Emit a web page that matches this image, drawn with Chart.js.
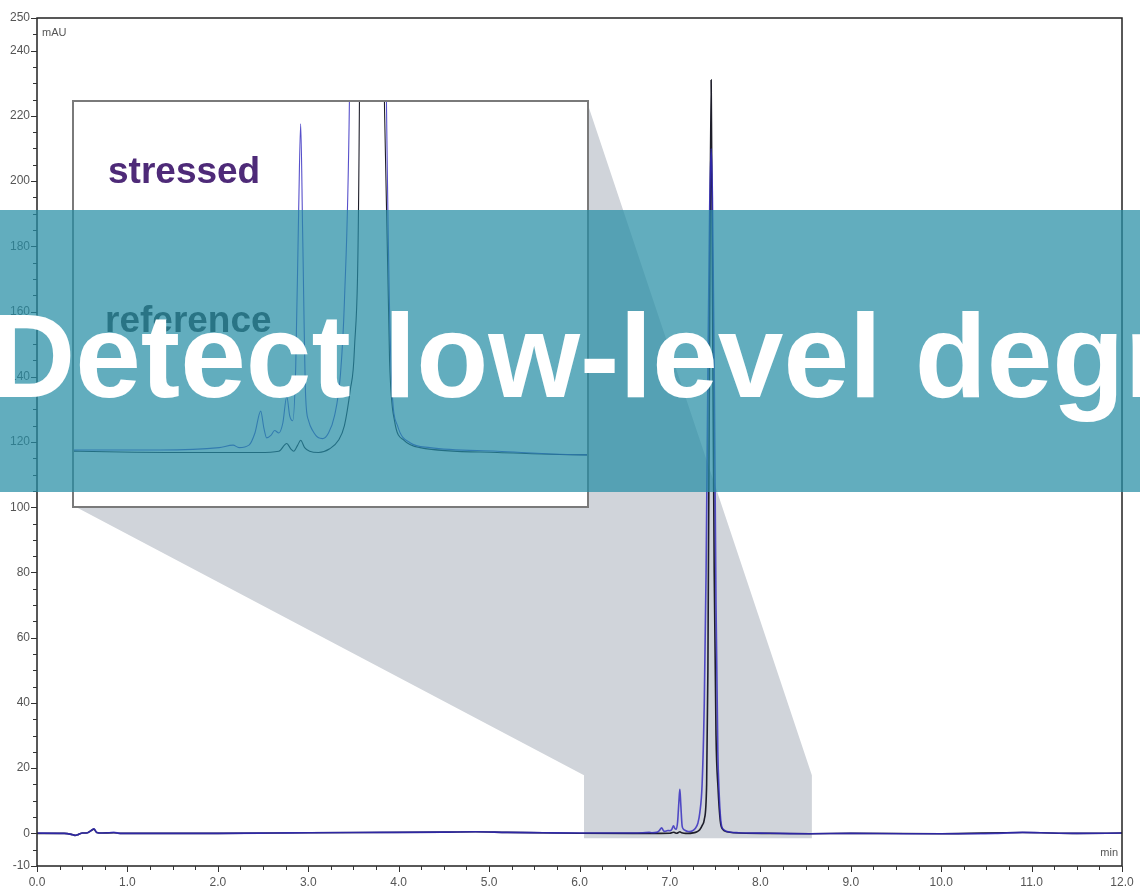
<!DOCTYPE html>
<html>
<head>
<meta charset="utf-8">
<script src="https://cdn.jsdelivr.net/npm/chart.js@4.4.1/dist/chart.umd.min.js"></script>
<style>
  html, body { margin: 0; padding: 0; background: #fff; }
  #wrap { position: relative; width: 1140px; height: 890px; overflow: hidden; }
  #mainChart { position: absolute; left: 0; top: 0; }
  #insetBox { position: absolute; left: 72px; top: 100px; width: 517px; height: 408px;
              border: 2px solid #7a7a7a; box-sizing: border-box; background: #fff; }
  #insetChart { position: absolute; left: 0; top: 0; }
  .tag { position: absolute; font-family: "Liberation Sans", Arial, sans-serif; font-weight: bold;
         font-size: 37px; line-height: 1; white-space: nowrap; }
  #banner { position: absolute; left: 0; top: 210px; width: 1140px; height: 282px;
            background: rgba(37, 142, 165, 0.72); overflow: hidden; }
  #banner span { position: absolute; left: -10px; top: 87px; color: #fff; white-space: nowrap;
                 font-family: "Liberation Sans", Arial, sans-serif; font-weight: bold;
                 font-size: 118px; line-height: 1; }
</style>
</head>
<body>
<div id="wrap">
  <canvas id="mainChart" width="1140" height="890"></canvas>
  <div id="insetBox"><canvas id="insetChart" width="513" height="404"></canvas></div>
  <div class="tag" style="left:108px; top:152px; color:#4e2a78;">stressed</div>
  <div class="tag" style="left:105px; top:301px; color:#333;">reference</div>
  <div id="banner"><span>Detect low-level degradants</span></div>
</div>
<script>
// chromatogram traces, time in min, absorbance in mAU
const stressedTime = [0.00, 0.30, 0.38, 0.42, 0.46, 0.50, 0.56, 0.60, 0.63, 0.66, 0.72, 0.80, 0.85, 0.92,
  1.50, 2.00, 2.60, 3.00, 3.80, 4.50, 4.85, 5.20, 5.60, 6.00, 6.40, 6.70, 6.77, 6.80, 6.85, 6.88,
  6.909, 6.925, 6.939, 6.96, 6.979, 7.00, 7.02, 7.04, 7.055, 7.07, 7.085, 7.10, 7.11, 7.12, 7.135,
  7.15, 7.17, 7.20, 7.22, 7.25, 7.28, 7.31, 7.33, 7.356, 7.38, 7.40, 7.42, 7.44, 7.456, 7.47, 7.49,
  7.51, 7.53, 7.542, 7.567, 7.597, 7.66, 7.76, 8.10, 8.55, 9.00, 9.60, 10.0, 10.6, 10.9, 11.1, 11.5, 12.0];
const stressedMAU = [0.1, 0.0, -0.3, -0.6, -0.3, 0.1, 0.2, 0.9, 1.4, 0.3, 0.1, 0.2, 0.3, 0.0,
  0.0, 0.0, 0.1, 0.2, 0.3, 0.4, 0.5, 0.3, 0.2, 0.1, 0.1, 0.2, 0.3, 0.2, 0.3, 0.8,
  1.7, 1.0, 0.6, 0.7, 0.9, 0.8, 1.2, 2.3, 1.5, 1.3, 3.5, 10, 13.5, 9, 2.3,
  1.3, 0.9, 0.6, 0.57, 0.8, 1.5, 3.2, 6.2, 15, 40, 80, 140, 192, 210, 195, 140,
  70, 25, 14, 3, 1.1, 0.4, 0.2, 0.05, -0.1, 0.0, -0.1, -0.1, 0.0, 0.3, 0.2, 0.0, 0.1];

const referenceTime = [0.00, 0.30, 0.38, 0.42, 0.46, 0.50, 0.56, 0.60, 0.63, 0.66, 0.72, 0.85, 0.92,
  2.00, 3.00, 4.50, 4.85, 5.20, 6.00, 6.60, 6.90, 7.00, 7.04, 7.06, 7.075, 7.095, 7.11, 7.13, 7.155,
  7.20, 7.256, 7.30, 7.33, 7.36, 7.38, 7.406, 7.42, 7.44, 7.456, 7.47, 7.49, 7.51, 7.532, 7.557,
  7.582, 7.63, 7.71, 8.10, 8.55, 9.00, 10.0, 10.9, 11.5, 12.0];
const referenceMAU = [0.0, 0.0, -0.3, -0.6, -0.3, 0.1, 0.2, 0.9, 1.3, 0.3, 0.1, 0.2, 0.0,
  0.0, 0.2, 0.4, 0.5, 0.3, 0.05, 0.0, 0.0, 0.05, 0.37, 0.15, 0.05, 0.3, 0.5, 0.2, 0.05,
  0.0, 0.15, 0.5, 1.1, 2.6, 4.2, 15, 50, 160, 231, 170, 80, 30, 14, 3.8,
  1.3, 0.5, 0.2, 0.0, -0.1, 0.0, -0.1, 0.25, 0.0, 0.1];

const xTickValues = [0, 1, 2, 3, 4, 5, 6, 7, 8, 9, 10, 11, 12];
const yTickValues = [-10, 0, 20, 40, 60, 80, 100, 120, 140, 160, 180, 200, 220, 240, 250];

// zoomed window shown in the inset (min / mAU)
const zoomTime = [6.05, 8.57];
const zoomMAU = [-1.5, 17.8];
const insetTime = [5.97, 8.55];
const insetMAU = [-2.2, 14.4];

const pts = (t, v) => t.map((x, i) => ({ x: x, y: v[i] }));
const axisFont = { family: "'Liberation Sans', Arial, sans-serif", size: 12 };
const inset = { left: 74, top: 102, right: 587, bottom: 506 };
const blue = 'rgba(50, 42, 190, 0.82)';
const black = '#1e1e2a';

const decorPlugin = {
  id: 'decor',
  beforeDatasetsDraw(chart) {
    const ctx = chart.ctx, x = chart.scales.x, y = chart.scales.y;
    const x0 = x.getPixelForValue(zoomTime[0]), x1 = x.getPixelForValue(zoomTime[1]);
    const y0 = y.getPixelForValue(zoomMAU[0]), y1 = y.getPixelForValue(zoomMAU[1]);
    ctx.save();
    ctx.fillStyle = 'rgb(208, 212, 218)';
    ctx.beginPath();
    ctx.moveTo(inset.left, inset.top);
    ctx.lineTo(inset.right, inset.top);
    ctx.lineTo(x1, y1);
    ctx.lineTo(x1, y0);
    ctx.lineTo(x0, y0);
    ctx.lineTo(x0, y1);
    ctx.lineTo(inset.left, inset.bottom);
    ctx.closePath();
    ctx.fill();
    ctx.restore();
  },
  afterDraw(chart) {
    const ctx = chart.ctx, a = chart.chartArea, x = chart.scales.x, y = chart.scales.y;
    ctx.save();
    ctx.strokeStyle = '#222';
    ctx.lineWidth = 1.5;
    ctx.strokeRect(a.left, a.top, a.right - a.left, a.bottom - a.top);
    ctx.lineWidth = 1;
    ctx.strokeStyle = '#333';
    ctx.beginPath();
    for (let v = 0; v <= 12.001; v += 0.25) {
      const px = Math.round(x.getPixelForValue(v)) + 0.5;
      const len = Math.abs(v - Math.round(v)) < 0.01 ? 6 : 4;
      ctx.moveTo(px, a.bottom);
      ctx.lineTo(px, a.bottom + len);
    }
    for (let v = -10; v <= 250; v += 5) {
      const py = Math.round(y.getPixelForValue(v)) + 0.5;
      const len = yTickValues.includes(v) ? 6 : 4;
      ctx.moveTo(a.left, py);
      ctx.lineTo(a.left - len, py);
    }
    ctx.stroke();
    ctx.fillStyle = '#555';
    ctx.font = "11px 'Liberation Sans', Arial, sans-serif";
    ctx.textBaseline = 'middle';
    ctx.textAlign = 'left';
    ctx.fillText('mAU', a.left + 5, a.top + 15);
    ctx.textAlign = 'right';
    ctx.fillText('min', a.right - 4, a.bottom - 13);
    ctx.restore();
  }
};

new Chart(document.getElementById('mainChart'), {
  type: 'line',
  data: {
    datasets: [
      { label: 'stressed', data: pts(stressedTime, stressedMAU), borderColor: blue,
        borderWidth: 1.6, pointRadius: 0, cubicInterpolationMode: 'monotone' },
      { label: 'reference', data: pts(referenceTime, referenceMAU), borderColor: black,
        borderWidth: 1.6, pointRadius: 0, cubicInterpolationMode: 'monotone' }
    ]
  },
  options: {
    responsive: false,
    animation: false,
    layout: { padding: { top: 18, right: 18, left: 0, bottom: 0 } },
    plugins: { legend: { display: false }, tooltip: { enabled: false } },
    scales: {
      x: {
        type: 'linear', min: 0, max: 12,
        afterBuildTicks: s => { s.ticks = xTickValues.map(v => ({ value: v })); },
        afterFit: s => { s.height = 24; s.paddingLeft = 0; s.paddingRight = 0; },
        grid: { display: false, drawTicks: false },
        border: { display: false },
        ticks: { color: '#555', font: axisFont, padding: 9, maxRotation: 0, autoSkip: false,
                 callback: v => v.toFixed(1) }
      },
      y: {
        type: 'linear', min: -10, max: 250,
        afterBuildTicks: s => { s.ticks = yTickValues.map(v => ({ value: v })); },
        afterFit: s => { s.width = 37; },
        grid: { display: false, drawTicks: false },
        border: { display: false },
        ticks: { color: '#555', font: axisFont, padding: 7, autoSkip: false }
      }
    }
  },
  plugins: [decorPlugin]
});

new Chart(document.getElementById('insetChart'), {
  type: 'line',
  data: {
    datasets: [
      { label: 'stressed', data: pts(stressedTime, stressedMAU), borderColor: blue,
        borderWidth: 1.1, pointRadius: 0, cubicInterpolationMode: 'monotone' },
      { label: 'reference', data: pts(referenceTime, referenceMAU), borderColor: black,
        borderWidth: 1.1, pointRadius: 0, cubicInterpolationMode: 'monotone' }
    ]
  },
  options: {
    responsive: false,
    animation: false,
    layout: { padding: 0 },
    plugins: { legend: { display: false }, tooltip: { enabled: false } },
    scales: {
      x: { type: 'linear', min: insetTime[0], max: insetTime[1], display: false },
      y: { type: 'linear', min: insetMAU[0], max: insetMAU[1], display: false }
    }
  }
});
</script>
</body>
</html>
